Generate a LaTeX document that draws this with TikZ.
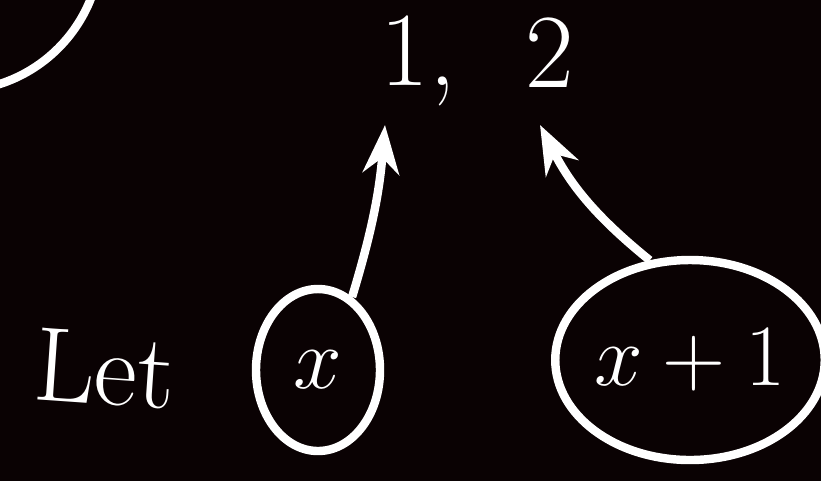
\documentclass[tikz,border=0pt]{standalone}
\usepackage{tikz}
\usetikzlibrary{arrows.meta,positioning,shapes.geometric}
\definecolor{board}{RGB}{10,2,3}
\begin{document}
\begin{tikzpicture}[>=Stealth, white, line width=2.4pt,
  bubble/.style={draw, ellipse, inner sep=0pt},
  chalk/.style={font=\fontsize{30}{32}\selectfont}]

% Board
\fill[board] (0,0) rectangle (8.21,4.81);
\useasboundingbox (0,0) rectangle (8.21,4.81);

% Circle cut off at the corner
\begin{scope}
\clip (0,0) rectangle (8.21,4.81);
\draw (-0.45,5.36) circle (1.46);
\end{scope}

% Values
\node[chalk] (one) at (4.18,4.2) {1,};
\node[chalk] (two) at (5.5,4.28) {2};
\coordinate (tip1) at (3.85,3.56);
\coordinate (tip2) at (5.4,3.56);

% Numbers
\node[bubble, chalk, minimum width=1.24cm, minimum height=1.62cm] (x) at (3.18,1.11) {$x$};
\node[bubble, chalk, minimum width=2.4cm, minimum height=2.0cm] (xp) at (6.9,1.21) {$x+1$};

\node[chalk, rotate=-4] (let) at (1.05,1.12) {Let};

% Arrows
\draw[->] (x.65) to[bend right=6] (tip1);
\draw[->] (xp.112) to[bend left=12] (tip2);

\end{tikzpicture}
\end{document}
